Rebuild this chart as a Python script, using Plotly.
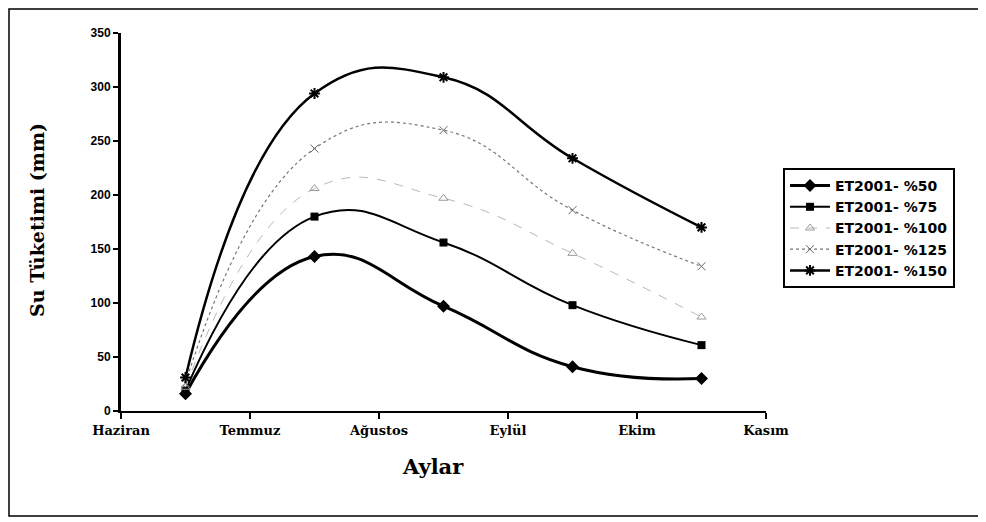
import plotly.graph_objects as go

months = ["Haziran", "Temmuz", "Ağustos", "Eylül", "Ekim", "Kasım"]
month_pos = [0, 1, 2, 3, 4, 5]
x_points = [0.5, 1.5, 2.5, 3.5, 4.5]

et50 = [16, 143, 97, 41, 30]
et75 = [19, 180, 156, 98, 61]
et100 = [22, 206, 197, 146, 87]
et125 = [26, 243, 260, 186, 134]
et150 = [31, 294, 309, 234, 170]

names = ["ET2001- %50", "ET2001- %75", "ET2001- %100", "ET2001- %125", "ET2001- %150"]

styles = [
    dict(line=dict(color="black", width=3, dash="solid"), marker=dict(symbol="diamond", size=10, color="black")),
    dict(line=dict(color="black", width=2, dash="solid"), marker=dict(symbol="square", size=8, color="black")),
    dict(line=dict(color="#b8b8b8", width=1, dash="dash"), marker=dict(symbol="triangle-up-open", size=8, color="#999999")),
    dict(line=dict(color="#777777", width=1.2, dash="dot"), marker=dict(symbol="x-thin-open", size=8, color="#666666", line=dict(width=1, color="#666666"))),
    dict(line=dict(color="black", width=2.5, dash="solid"), marker=dict(symbol="asterisk-open", size=9, color="black", line=dict(width=2, color="black"))),
]

fig = go.Figure()
for name, vals, st in zip(names, [et50, et75, et100, et125, et150], styles):
    fig.add_trace(go.Scatter(
        x=x_points, y=vals, name=name, mode="lines+markers",
        line=dict(shape="spline", smoothing=1.3, **st["line"]),
        marker=st["marker"],
    ))

# page has an 8px body margin: figure origin is at page (8, 8)
OFF = 8
L = 121 - OFF          # plot left in figure coords
T = 33 - OFF
PW = 645
PH = 378

def px(page_x):
    return (page_x - OFF - L) / PW

def py(page_y):
    return (T + PH - (page_y - OFF)) / PH

serif = "DejaVu Serif"
fig.update_layout(
    width=978, height=514,
    margin=dict(l=L, r=978 - L - PW, t=T, b=514 - T - PH),
    paper_bgcolor="white", plot_bgcolor="white",
    showlegend=True,
    legend=dict(
        x=px(783), y=py(168), xanchor="left", yanchor="top",
        bordercolor="black", borderwidth=2, bgcolor="white",
        font=dict(family="DejaVu Sans", size=14, color="black", weight="bold"),
        tracegroupgap=9, itemwidth=40,
    ),
    xaxis=dict(
        range=[0, 5], tickmode="array", tickvals=month_pos, ticktext=months,
        showgrid=False, zeroline=False, showline=True, linecolor="black", linewidth=2,
        ticks="outside", ticklen=6, tickwidth=2, tickcolor="black",
        tickfont=dict(family=serif, size=13, color="black", weight="bold"),
    ),
    yaxis=dict(
        range=[0, 350], tickvals=[0, 50, 100, 150, 200, 250, 300, 350],
        showgrid=False, zeroline=False, showline=True, linecolor="black", linewidth=3,
        ticks="outside", ticklen=5, tickwidth=2, tickcolor="black",
        tickfont=dict(family="Arial, Liberation Sans", size=12, color="black", weight="bold"),
    ),
    annotations=[
        dict(text="Aylar", xref="paper", yref="paper", x=px(433), y=py(466),
             showarrow=False, font=dict(family=serif, size=21, color="black", weight="bold"),
             xanchor="center", yanchor="middle"),
        dict(text="Su Tüketimi (mm)", xref="paper", yref="paper", x=px(37), y=py(220),
             showarrow=False, textangle=-90, font=dict(family=serif, size=19, color="black", weight="bold"),
             xanchor="center", yanchor="middle"),
    ],
    shapes=[
        dict(type="rect", xref="paper", yref="paper",
             x0=px(9), x1=px(982),
             y0=py(516), y1=py(9),
             line=dict(color="black", width=1.5)),
    ],
)

fig.write_html("out.html")
